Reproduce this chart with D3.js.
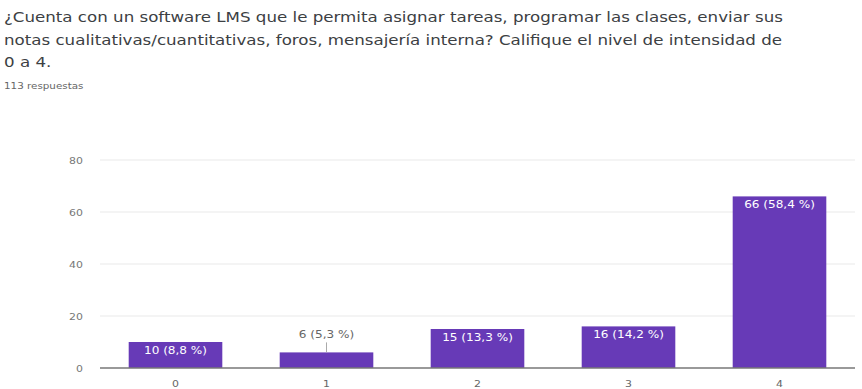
<!DOCTYPE html>
<html><head><meta charset="utf-8">
<script src="https://cdn.jsdelivr.net/npm/d3@7/dist/d3.min.js"></script>
<style>body{margin:0;background:#fff;}svg{display:block;font-family:"DejaVu Sans", Roboto, Arial, sans-serif;}</style>
</head><body><svg id="c" width="862" height="389"></svg>
<script>
const titleLines = ["¿Cuenta con un software LMS que le permita asignar tareas, programar las clases, enviar sus",
  "notas cualitativas/cuantitativas, foros, mensajería interna? Califique el nivel de intensidad de",
  "0 a 4."];
const subtitle = "113 respuestas";
const categories = ["0","1","2","3","4"];
const values = [10, 6, 15, 16, 66];
const labels = ["10 (8,8 %)","6 (5,3 %)","15 (13,3 %)","16 (14,2 %)","66 (58,4 %)"];
const yTicks = [0,20,40,60,80];

const SX = 1.15; // horizontal stretch of glyphs seen in the reference
const svg = d3.select("#c");
function txt(parent, x, y, s, size, fill, anchor){
  return parent.append("text")
    .attr("transform", `translate(${x},${y}) scale(${SX},1)`)
    .attr("font-size", size).attr("fill", fill)
    .attr("text-anchor", anchor || "start").text(s);
}

titleLines.forEach((t,i)=>txt(svg, 4, 22+i*22.5, t, 14.5, "#3c4043"));
txt(svg, 4, 89, subtitle, 9, "#666");

const x = d3.scaleBand().domain(categories).range([100,855]).paddingInner(0.38).paddingOuter(0.19);
const y = d3.scaleLinear().domain([0,80]).range([368,160]);

const g = svg.append("g");
g.selectAll("line.grid").data(yTicks.filter(t=>t>0)).enter().append("line")
  .attr("x1",100).attr("x2",855).attr("y1",d=>y(d)).attr("y2",d=>y(d)).attr("stroke","#e9e9e9");
yTicks.forEach(t=>txt(g, 83, y(t)+3.5, String(t), 9.5, "#777", "end"));

g.selectAll("rect.bar").data(values).enter().append("rect")
  .attr("x",(d,i)=>x(categories[i])).attr("width",x.bandwidth())
  .attr("y",d=>y(d)).attr("height",d=>y(0)-y(d)).attr("fill","#673ab7");

g.append("line").attr("x1",100).attr("x2",855).attr("y1",y(0)).attr("y2",y(0)).attr("stroke","#777").attr("stroke-width",1.5);

categories.forEach(c=>txt(g, x(c)+x.bandwidth()/2, 387, c, 9.5, "#666", "middle"));

values.forEach((v,i)=>{
  const cx = x(categories[i])+x.bandwidth()/2;
  const inside = (y(0)-y(v)) > 18;
  if(inside){
    txt(g, cx, y(v)+12, labels[i], 10.5, "#fff", "middle");
  } else {
    g.append("line").attr("x1",cx).attr("x2",cx).attr("y1",y(v)).attr("y2",y(v)-10).attr("stroke","#aaa");
    txt(g, cx, y(v)-14, labels[i], 10.5, "#666", "middle");
  }
});
</script></body></html>
